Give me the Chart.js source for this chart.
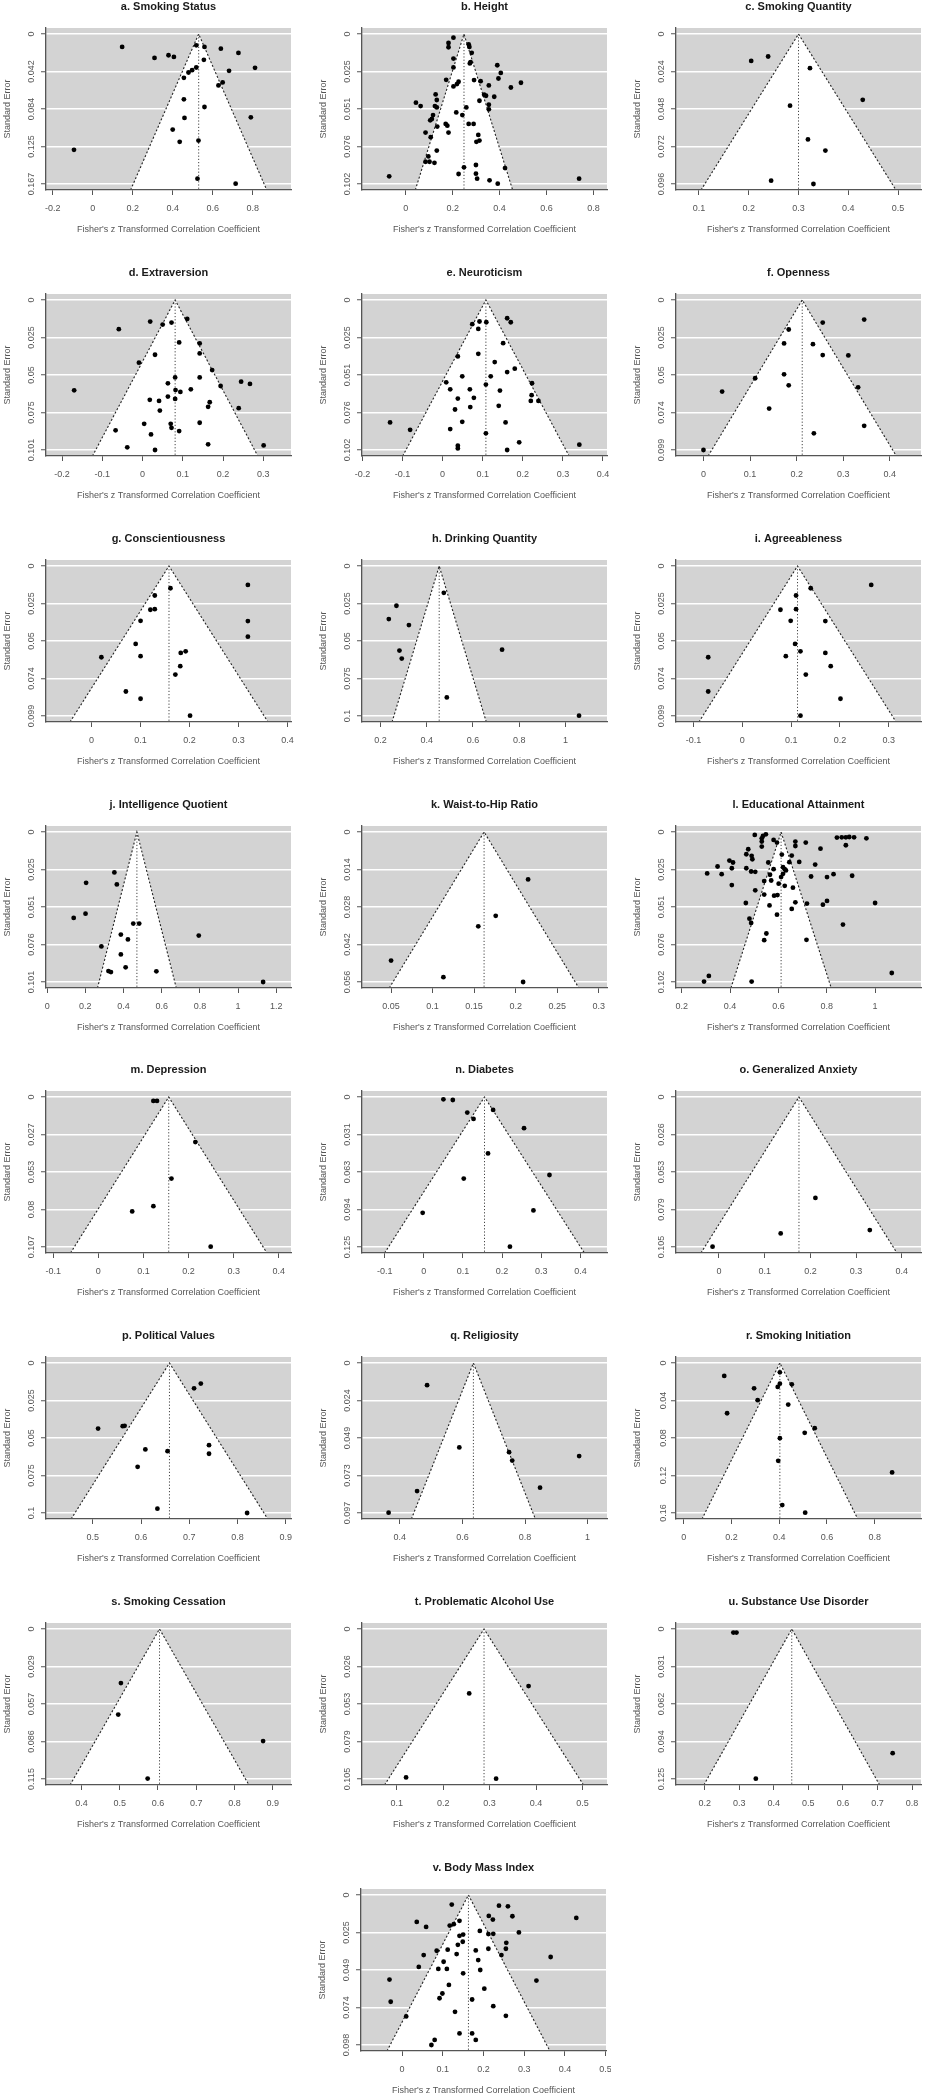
<!DOCTYPE html>
<html><head><meta charset="utf-8">
<script src="https://cdn.jsdelivr.net/npm/chart.js@4.4.1/dist/chart.umd.min.js"></script>
<style>
html,body{margin:0;padding:0;background:#fff;}
#wrap{position:relative;width:927px;height:2100px;overflow:hidden;background:#fff;}
#wrap canvas{position:absolute;}
</style></head>
<body><div id="wrap"></div>
<script>
// ---------- DATA ----------
const panelTitles = ["a. Smoking Status","b. Height","c. Smoking Quantity","d. Extraversion","e. Neuroticism","f. Openness","g. Conscientiousness","h. Drinking Quantity","i. Agreeableness","j. Intelligence Quotient","k. Waist-to-Hip Ratio","l. Educational Attainment","m. Depression","n. Diabetes","o. Generalized Anxiety","p. Political Values","q. Religiosity","r. Smoking Initiation","s. Smoking Cessation","t. Problematic Alcohol Use","u. Substance Use Disorder","v. Body Mass Index"];
const pooledZ = [0.53,0.248,0.300,0.081,0.108,0.212,0.158,0.454,0.113,0.470,0.162,0.611,0.156,0.155,0.175,0.659,0.635,0.403,0.604,0.288,0.452,0.163];
const maxSE = [0.1671,0.1018,0.096,0.1008,0.1018,0.0991,0.0991,0.1,0.0991,0.1012,0.056,0.1018,0.1068,0.1252,0.1052,0.1,0.0972,0.16,0.1148,0.1052,0.1248,0.0982];
const xMin = [-0.234,-0.187,0.054,-0.240,-0.201,-0.059,-0.093,0.12,-0.136,-0.006,0.015,0.176,-0.116,-0.158,-0.094,0.403,0.279,-0.032,0.307,0.025,0.117,-0.101];
const xMax = [0.992,0.858,0.546,0.369,0.41,0.467,0.407,1.18,0.366,1.277,0.31,1.19,0.427,0.468,0.442,0.911,1.062,0.994,0.948,0.553,0.826,0.501];
const xTickValues = [[-0.2,0,0.2,0.4,0.6,0.8],[0,0.2,0.4,0.6,0.8],[0.1,0.2,0.3,0.4,0.5],[-0.2,-0.1,0,0.1,0.2,0.3],[-0.2,-0.1,0,0.1,0.2,0.3,0.4],[0,0.1,0.2,0.3,0.4],[0,0.1,0.2,0.3,0.4],[0.2,0.4,0.6,0.8,1],[-0.1,0,0.1,0.2,0.3],[0,0.2,0.4,0.6,0.8,1,1.2],[0.05,0.1,0.15,0.2,0.25,0.3],[0.2,0.4,0.6,0.8,1],[-0.1,0,0.1,0.2,0.3,0.4],[-0.1,0,0.1,0.2,0.3,0.4],[0,0.1,0.2,0.3,0.4],[0.5,0.6,0.7,0.8,0.9],[0.4,0.6,0.8,1],[0,0.2,0.4,0.6,0.8],[0.4,0.5,0.6,0.7,0.8,0.9],[0.1,0.2,0.3,0.4,0.5],[0.2,0.3,0.4,0.5,0.6,0.7,0.8],[0,0.1,0.2,0.3,0.4,0.5]];
const yTickLabels = [["0","0.042","0.084","0.125","0.167"],["0","0.025","0.051","0.076","0.102"],["0","0.024","0.048","0.072","0.096"],["0","0.025","0.05","0.075","0.101"],["0","0.025","0.051","0.076","0.102"],["0","0.025","0.05","0.074","0.099"],["0","0.025","0.05","0.074","0.099"],["0","0.025","0.05","0.075","0.1"],["0","0.025","0.05","0.074","0.099"],["0","0.025","0.051","0.076","0.101"],["0","0.014","0.028","0.042","0.056"],["0","0.025","0.051","0.076","0.102"],["0","0.027","0.053","0.08","0.107"],["0","0.031","0.063","0.094","0.125"],["0","0.026","0.053","0.079","0.105"],["0","0.025","0.05","0.075","0.1"],["0","0.024","0.049","0.073","0.097"],["0","0.04","0.08","0.12","0.16"],["0","0.029","0.057","0.086","0.115"],["0","0.026","0.053","0.079","0.105"],["0","0.031","0.062","0.094","0.125"],["0","0.025","0.049","0.074","0.098"]];

const smokingStatusZ = [0.147,0.309,0.379,0.406,0.518,0.559,0.641,0.729,0.556,0.518,0.497,0.479,0.456,0.682,0.812,0.650,0.629,0.456,0.559,0.459,0.791,0.400,0.435,0.529,-0.094,0.524,0.715];
const smokingStatusSE = [0.0144,0.0266,0.0237,0.0255,0.0126,0.0144,0.0163,0.0211,0.0288,0.0373,0.0403,0.0429,0.0488,0.0410,0.0377,0.0540,0.0573,0.0728,0.0813,0.0935,0.0928,0.1065,0.1201,0.1187,0.1290,0.1612,0.1667];
const heightZ = [0.203,0.182,0.182,0.268,0.271,0.281,0.203,0.276,0.273,0.203,0.390,0.405,0.395,0.491,0.448,0.172,0.225,0.218,0.203,0.291,0.319,0.354,0.334,0.342,0.377,0.314,0.354,0.354,0.258,0.127,0.132,0.043,0.063,0.124,0.132,0.116,0.111,0.104,0.215,0.241,0.170,0.134,0.177,0.268,0.289,0.084,0.106,0.182,0.309,0.301,0.314,0.132,0.096,0.084,0.101,0.122,0.248,0.423,0.299,0.225,0.299,0.304,0.357,0.392,-0.071,0.739];
const heightSE = [0.0025,0.0061,0.0090,0.0070,0.0088,0.0128,0.0167,0.0191,0.0200,0.0227,0.0212,0.0264,0.0302,0.0331,0.0363,0.0311,0.0324,0.0340,0.0356,0.0313,0.0320,0.0349,0.0412,0.0419,0.0426,0.0453,0.0480,0.0511,0.0498,0.0410,0.0448,0.0466,0.0489,0.0489,0.0498,0.0550,0.0577,0.0586,0.0532,0.0550,0.0610,0.0628,0.0622,0.0610,0.0610,0.0669,0.0700,0.0669,0.0685,0.0732,0.0723,0.0791,0.0831,0.0867,0.0867,0.0874,0.0905,0.0910,0.0889,0.0950,0.0948,0.0982,0.0993,0.1016,0.0966,0.0982];
const smokingQuantityZ = [0.205,0.239,0.323,0.429,0.283,0.319,0.354,0.245,0.330];
const smokingQuantitySE = [0.0172,0.0144,0.0219,0.0421,0.0459,0.0675,0.0746,0.0939,0.0960];
const extraversionZ = [0.111,0.019,0.050,0.072,-0.059,0.091,0.142,0.142,0.031,-0.009,0.173,0.142,0.081,0.063,0.194,0.245,0.267,-0.170,0.082,0.094,0.120,0.063,0.018,0.041,0.081,0.167,0.163,0.239,0.043,0.004,0.070,0.072,0.142,-0.067,0.021,0.091,0.163,-0.038,0.031,0.301];
const extraversionSE = [0.0127,0.0145,0.0165,0.0152,0.0196,0.0285,0.0292,0.0359,0.0368,0.0421,0.0471,0.0520,0.0520,0.0560,0.0578,0.0549,0.0564,0.0607,0.0605,0.0618,0.0600,0.0649,0.0671,0.0678,0.0665,0.0687,0.0718,0.0727,0.0743,0.0832,0.0832,0.0859,0.0825,0.0876,0.0903,0.0881,0.0970,0.0990,0.1008,0.0977];
const neuroticismZ = [0.074,0.092,0.109,0.089,0.161,0.170,0.151,0.038,0.089,0.130,0.180,0.161,0.120,0.049,0.009,0.108,0.223,0.019,0.068,0.143,0.222,0.038,0.078,0.220,0.239,0.069,0.031,0.140,0.049,0.157,-0.131,-0.081,0.019,0.108,0.191,0.038,0.038,0.161,0.341];
const neuroticismSE = [0.0164,0.0146,0.0151,0.0196,0.0124,0.0151,0.0293,0.0383,0.0365,0.0421,0.0466,0.0489,0.0518,0.0518,0.0559,0.0574,0.0565,0.0606,0.0606,0.0615,0.0646,0.0669,0.0664,0.0685,0.0685,0.0727,0.0743,0.0718,0.0827,0.0831,0.0831,0.0881,0.0876,0.0905,0.0966,0.0989,0.1007,0.1018,0.0982];
const opennessZ = [0.345,0.256,0.183,0.173,0.235,0.256,0.311,0.111,0.173,0.183,0.040,0.332,0.141,0.345,0.237,0.000];
const opennessSE = [0.0129,0.0149,0.0195,0.0287,0.0292,0.0364,0.0366,0.0517,0.0491,0.0564,0.0605,0.0577,0.0717,0.0831,0.0881,0.0991];
const conscientiousnessZ = [0.319,0.161,0.129,0.120,0.129,0.100,0.319,0.319,0.090,0.020,0.100,0.182,0.192,0.181,0.171,0.070,0.100,0.201];
const conscientiousnessSE = [0.0125,0.0147,0.0195,0.0289,0.0285,0.0362,0.0364,0.0467,0.0515,0.0603,0.0596,0.0574,0.0564,0.0662,0.0717,0.0829,0.0877,0.0989];
const drinkingQuantityZ = [0.474,0.269,0.236,0.323,0.282,0.292,0.726,0.487,1.059];
const drinkingQuantitySE = [0.0179,0.0265,0.0354,0.0394,0.0564,0.0617,0.0558,0.0876,0.0998];
const agreeablenessZ = [0.264,0.140,0.110,0.078,0.110,0.099,0.170,0.108,0.119,0.170,0.089,-0.070,0.181,0.130,-0.070,0.201,0.119];
const agreeablenessSE = [0.0125,0.0147,0.0195,0.0289,0.0285,0.0362,0.0364,0.0515,0.0564,0.0574,0.0596,0.0603,0.0662,0.0717,0.0829,0.0877,0.0989];
const intelligenceZ = [0.352,0.204,0.365,0.201,0.139,0.451,0.482,0.386,0.423,0.794,0.284,0.386,0.411,0.321,0.334,0.572,1.131];
const intelligenceSE = [0.0273,0.0343,0.0354,0.0551,0.0580,0.0618,0.0618,0.0692,0.0725,0.0699,0.0772,0.0826,0.0913,0.0938,0.0945,0.0940,0.1012];
const waistHipZ = [0.215,0.176,0.155,0.050,0.113,0.209];
const waistHipSE = [0.0177,0.0313,0.0352,0.0480,0.0542,0.0560];
const educationZ = [0.502,0.536,0.548,0.531,0.580,0.594,0.531,0.531,0.670,0.670,0.713,0.842,0.862,0.879,0.893,0.913,0.964,0.879,0.774,0.475,0.467,0.489,0.614,0.655,0.492,0.397,0.412,0.558,0.645,0.686,0.752,0.348,0.407,0.467,0.487,0.504,0.580,0.619,0.626,0.631,0.305,0.365,0.565,0.619,0.611,0.735,0.801,0.828,0.905,0.541,0.570,0.601,0.626,0.660,0.407,0.504,0.541,0.582,0.596,0.465,0.563,0.670,0.718,0.784,0.801,1.000,0.655,0.594,0.480,0.487,0.867,0.550,0.541,0.716,1.069,0.292,0.312,0.489];
const educationSE = [0.0020,0.0027,0.0016,0.0043,0.0054,0.0072,0.0065,0.0099,0.0065,0.0095,0.0072,0.0038,0.0036,0.0036,0.0034,0.0036,0.0043,0.0090,0.0113,0.0117,0.0151,0.0162,0.0153,0.0160,0.0185,0.0194,0.0207,0.0207,0.0205,0.0203,0.0221,0.0234,0.0246,0.0246,0.0268,0.0270,0.0252,0.0239,0.0252,0.0261,0.0281,0.0286,0.0290,0.0284,0.0306,0.0302,0.0306,0.0286,0.0297,0.0333,0.0329,0.0351,0.0365,0.0378,0.0360,0.0396,0.0425,0.0432,0.0428,0.0482,0.0498,0.0477,0.0486,0.0493,0.0468,0.0482,0.0522,0.0561,0.0588,0.0617,0.0628,0.0689,0.0734,0.0732,0.0957,0.1015,0.0977,0.1015];
const depressionZ = [0.122,0.130,0.215,0.162,0.122,0.075,0.249];
const depressionSE = [0.0028,0.0028,0.0321,0.0581,0.0777,0.0815,0.1066];
const diabetesZ = [0.050,0.074,0.111,0.177,0.127,0.256,0.164,0.321,0.102,-0.003,0.280,0.220];
const diabetesSE = [0.0019,0.0025,0.0130,0.0108,0.0183,0.0260,0.0471,0.0651,0.0681,0.0967,0.0947,0.1249];
const anxietyZ = [0.211,0.330,0.135,-0.014];
const anxietySE = [0.0708,0.0933,0.0957,0.1050];
const politicalZ = [0.724,0.710,0.511,0.562,0.566,0.609,0.655,0.741,0.741,0.593,0.634,0.820];
const politicalSE = [0.0137,0.0169,0.0437,0.0421,0.0419,0.0576,0.0588,0.0548,0.0605,0.0692,0.0971,0.1000];
const religiosityZ = [0.487,0.590,0.749,0.759,0.973,0.848,0.455,0.364];
const religiositySE = [0.0144,0.0547,0.0578,0.0632,0.0603,0.0808,0.0830,0.0970];
const smokingInitiationZ = [0.170,0.403,0.295,0.310,0.182,0.394,0.403,0.453,0.438,0.549,0.507,0.403,0.396,0.873,0.413,0.509];
const smokingInitiationSE = [0.0138,0.0099,0.0270,0.0397,0.0536,0.0255,0.0220,0.0227,0.0443,0.0695,0.0745,0.0802,0.1043,0.1167,0.1515,0.1596];
const smokingCessationZ = [0.503,0.496,0.875,0.573];
const smokingCessationSE = [0.0414,0.0655,0.0858,0.1145];
const alcoholUseZ = [0.384,0.256,0.120,0.314];
const alcoholUseSE = [0.0400,0.0452,0.1041,0.1050];
const substanceUseZ = [0.283,0.292,0.744,0.348];
const substanceUseSE = [0.0030,0.0030,0.1033,0.1245];
const bmiZ = [0.122,0.238,0.260,0.213,0.223,0.271,0.036,0.059,0.117,0.127,0.141,0.428,0.191,0.141,0.150,0.149,0.137,0.212,0.224,0.287,0.256,0.255,0.212,0.244,0.181,0.187,0.192,0.085,0.112,0.134,0.053,0.102,0.041,0.089,0.110,0.150,0.365,0.330,-0.031,-0.028,0.115,0.202,0.099,0.092,0.172,0.224,0.130,0.255,0.010,0.141,0.172,0.181,0.080,0.072];
const bmiSE = [0.0063,0.0070,0.0074,0.0137,0.0161,0.0139,0.0176,0.0209,0.0200,0.0191,0.0169,0.0150,0.0235,0.0267,0.0259,0.0306,0.0326,0.0256,0.0254,0.0245,0.0313,0.0352,0.0352,0.0393,0.0363,0.0426,0.0491,0.0365,0.0358,0.0387,0.0393,0.0437,0.0471,0.0484,0.0484,0.0513,0.0406,0.0560,0.0554,0.0699,0.0589,0.0613,0.0645,0.0676,0.0684,0.0728,0.0765,0.0791,0.0795,0.0906,0.0906,0.0949,0.0949,0.0982];

const studyZ = [smokingStatusZ,heightZ,smokingQuantityZ,extraversionZ,neuroticismZ,opennessZ,conscientiousnessZ,drinkingQuantityZ,agreeablenessZ,intelligenceZ,waistHipZ,educationZ,depressionZ,diabetesZ,anxietyZ,politicalZ,religiosityZ,smokingInitiationZ,smokingCessationZ,alcoholUseZ,substanceUseZ,bmiZ];
const studySE = [smokingStatusSE,heightSE,smokingQuantitySE,extraversionSE,neuroticismSE,opennessSE,conscientiousnessSE,drinkingQuantitySE,agreeablenessSE,intelligenceSE,waistHipSE,educationSE,depressionSE,diabetesSE,anxietySE,politicalSE,religiositySE,smokingInitiationSE,smokingCessationSE,alcoholUseSE,substanceUseSE,bmiSE];

// ---------- LAYOUT ----------
const FONT = "'Liberation Sans', Arial, Helvetica, sans-serif";
const colLeft = [46, 362, 676];
const rowTop0 = 28, rowPitch = 265.86;
const PLOT_W = 245, PLOT_H = 162, LEFT_M = 46, TOP_M = 30, RIGHT_M = 5, BOTTOM_M = 50;

const plotBg = {
  id: 'plotBg',
  beforeDraw(chart) {
    const {ctx, chartArea: a} = chart;
    ctx.save(); ctx.fillStyle = '#d3d3d3';
    ctx.fillRect(a.left, a.top, a.right - a.left, a.bottom - a.top);
    ctx.restore();
  }
};

const wrap = document.getElementById('wrap');

function makePanel(i, plotLeft, plotTop) {
  const W = LEFT_M + PLOT_W + RIGHT_M, H = TOP_M + PLOT_H + BOTTOM_M;
  const cv = document.createElement('canvas');
  cv.width = W; cv.height = H;
  cv.style.width = W + 'px'; cv.style.height = H + 'px';
  cv.style.left = Math.round(plotLeft - LEFT_M) + 'px';
  cv.style.top = Math.round(plotTop - TOP_M) + 'px';
  wrap.appendChild(cv);
  const m = maxSE[i], lo = -0.04 * m, hi = 1.04 * m, est = pooledZ[i];
  const pts = studyZ[i].map((z, k) => ({x: z, y: studySE[i][k]}));
  const xt = xTickValues[i].filter(v => v >= xMin[i] - 1e-9 && v <= xMax[i] + 1e-9);
  new Chart(cv, {
    type: 'scatter',
    data: {datasets: [
      {data: pts, pointRadius: 2.4, pointHoverRadius: 2.4, pointBackgroundColor: '#000', pointBorderColor: '#000', pointBorderWidth: 0, order: 0},
      {type: 'line', data: [{x: est, y: 0}, {x: est, y: hi}], borderColor: '#444', borderWidth: 1, borderDash: [1.2, 2], pointRadius: 0, fill: false, order: 1},
      {type: 'line', data: [{x: est - 1.96 * hi, y: hi}, {x: est, y: 0}, {x: est + 1.96 * hi, y: hi}], borderColor: '#222', borderWidth: 1.1, borderDash: [2, 2], pointRadius: 0, tension: 0, fill: {value: hi}, backgroundColor: '#ffffff', order: 2}
    ]},
    options: {
      responsive: false, animation: false, devicePixelRatio: 1, events: [],
      layout: {padding: {left: 0, right: RIGHT_M, top: 0, bottom: 0}},
      plugins: {
        legend: {display: false}, tooltip: {enabled: false},
        title: {display: true, fullSize: false, text: panelTitles[i], color: '#1a1a1a',
          font: {family: FONT, size: 11, weight: 'bold'}, padding: {top: 2, bottom: 14.8}}
      },
      scales: {
        x: {
          type: 'linear', min: xMin[i], max: xMax[i],
          afterBuildTicks: s => { s.ticks = xt.map(v => ({value: v})); },
          afterFit: s => { s.height = BOTTOM_M; s.paddingLeft = 0; s.paddingRight = 0; },
          grid: {drawOnChartArea: false, drawTicks: true, tickLength: 5, tickColor: '#555', tickWidth: 1},
          border: {display: true, color: '#555', width: 1.3, z: 1},
          ticks: {autoSkip: false, maxRotation: 0, minRotation: 0, padding: 8.5, color: '#555',
            font: {family: FONT, size: 9}, callback: v => String(v)},
          title: {display: true, text: "Fisher's z Transformed Correlation Coefficient", color: '#555',
            font: {family: FONT, size: 9}, padding: {top: 0, bottom: 4.6}}
        },
        y: {
          type: 'linear', reverse: true, min: lo, max: hi,
          afterBuildTicks: s => { s.ticks = [0, 1, 2, 3, 4].map(k => ({value: m * k / 4})); },
          afterFit: s => { s.width = LEFT_M; s.paddingTop = 0; s.paddingBottom = 0; },
          grid: {color: '#ffffff', lineWidth: 1.5, drawTicks: true, tickLength: 5, tickColor: '#555', tickWidth: 1},
          border: {display: true, color: '#555', width: 1.3, z: 1},
          ticks: {autoSkip: false, minRotation: 90, maxRotation: 90, crossAlign: 'center', padding: -1.5,
            color: '#555', font: {family: FONT, size: 9}, callback: (v, idx) => yTickLabels[i][idx]},
          title: {display: true, text: 'Standard Error', color: '#555',
            font: {family: FONT, size: 9}, padding: {top: 2, bottom: 0}}
        }
      }
    },
    plugins: [plotBg]
  });
}

for (let i = 0; i < 21; i++) {
  const r = Math.floor(i / 3), c = i % 3;
  makePanel(i, colLeft[c], rowTop0 + r * rowPitch);
}
makePanel(21, 361, rowTop0 + 7 * rowPitch);
</script>
</body></html>
